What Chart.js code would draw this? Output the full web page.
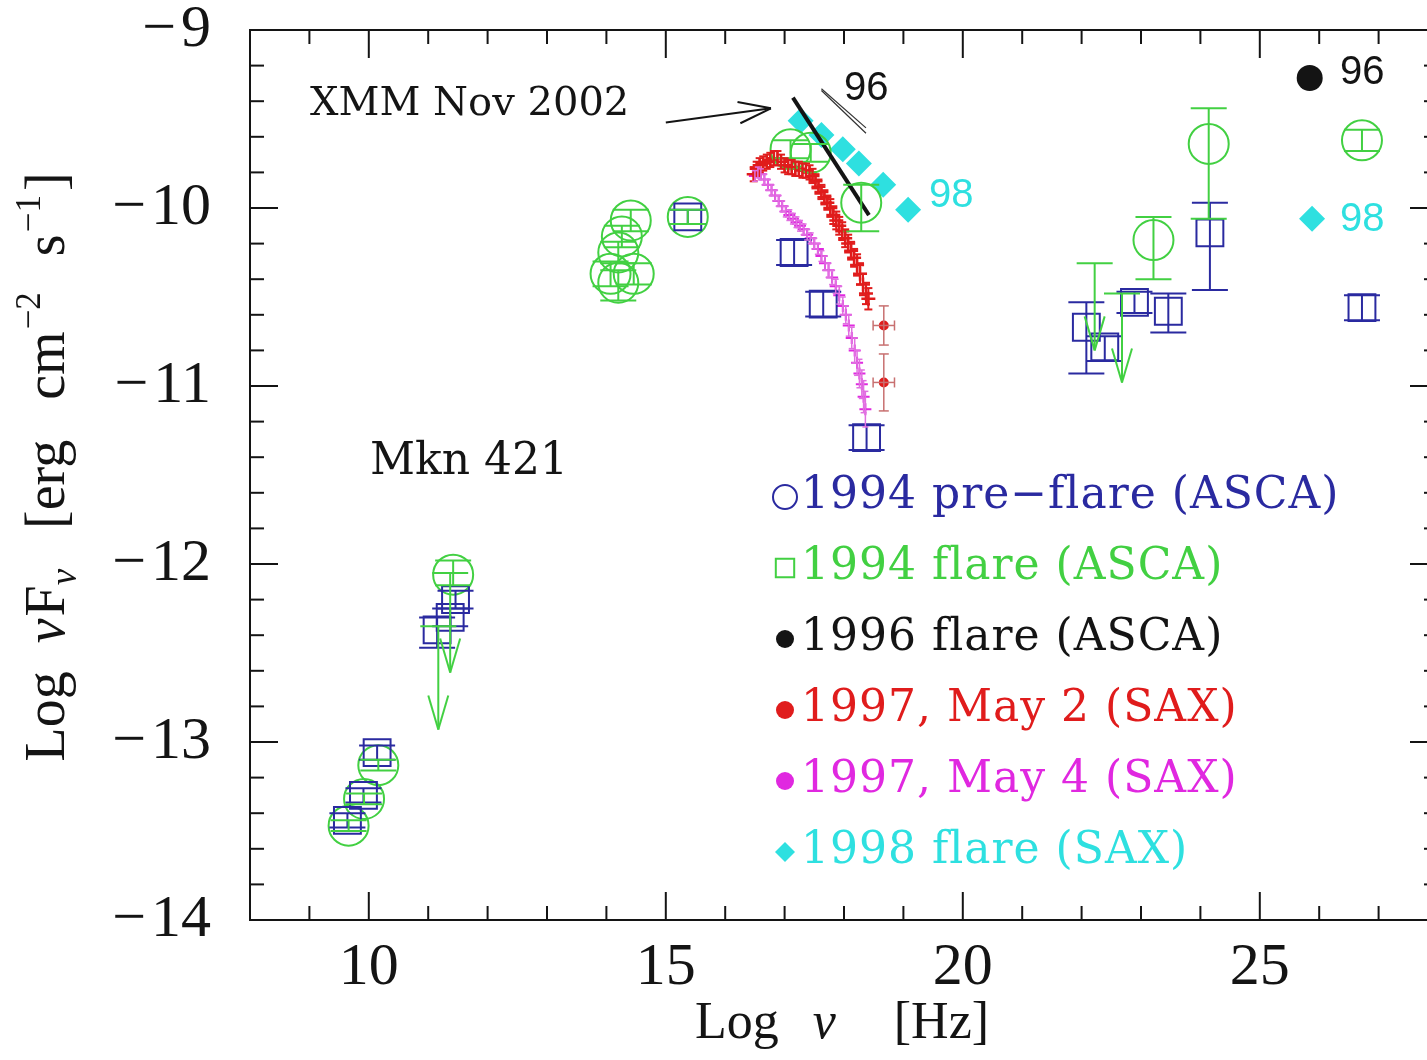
<!DOCTYPE html>
<html>
<head>
<meta charset="utf-8">
<title>Mkn 421 SED</title>
<script src="https://cdn.jsdelivr.net/npm/chart.js@4.4.1/dist/chart.umd.min.js"></script>
<style>
  html, body { margin: 0; padding: 0; background: #fff; overflow: hidden; }
  #wrap { position: relative; width: 1460px; height: 1060px; }
</style>
</head>
<body>
<div id="wrap"><canvas id="sed" width="1460" height="1060"></canvas></div>
<script>
// axis ranges and tick labels
const xMin = 8, xMax = 28;
const yMin = -14, yMax = -9;
const xTicks = [10, 15, 20, 25];
const yTicks = [-9, -10, -11, -12, -13, -14];

// 1994 pre-flare (ASCA) -- blue squares
const preFlare94X  = [9.64, 9.91, 10.14, 11.15, 11.37, 11.46, 15.37, 17.16, 17.65, 18.38, 22.08, 22.39, 22.89, 23.46, 24.16, 26.72];
const preFlare94Y  = [-13.44, -13.30, -13.06, -12.37, -12.30, -12.20, -10.05, -10.25, -10.54, -11.29, -10.67, -10.78, -10.53, -10.58, -10.14, -10.56];
const preFlare94Up = [0.04, 0.04, 0.04, 0.07, 0.05, 0.05, 0.04, 0.07, 0.07, 0.07, 0.14, 0.06, 0.06, 0.10, 0.17, 0.07];
const preFlare94Dn = [0.04, 0.04, 0.04, 0.10, 0.05, 0.05, 0.04, 0.07, 0.07, 0.07, 0.26, 0.08, 0.06, 0.12, 0.32, 0.07];

// 1994 flare (ASCA) -- green circles
const flare94X  = [9.66, 9.92, 10.16, 11.42, 14.41, 14.26, 14.20, 14.07, 14.46, 14.20, 15.37, 17.10, 17.44, 18.29, 23.21, 24.14, 26.72];
const flare94Y  = [-13.47, -13.32, -13.13, -12.06, -10.07, -10.16, -10.25, -10.37, -10.37, -10.42, -10.05, -9.67, -9.69, -9.97, -10.18, -9.64, -9.62];
const flare94Up = [0.03, 0.03, 0.03, 0.08, 0.06, 0.06, 0.06, 0.07, 0.06, 0.07, 0.04, 0.05, 0.05, 0.10, 0.13, 0.20, 0.06];
const flare94Dn = [0.03, 0.03, 0.03, 0.06, 0.06, 0.06, 0.06, 0.07, 0.06, 0.10, 0.04, 0.05, 0.05, 0.16, 0.22, 0.42, 0.06];
// 1994 flare upper limits (value at the cap, arrow tip)
const flare94LimX   = [11.17, 11.37, 22.22, 22.68];
const flare94LimY   = [-12.35, -12.05, -10.31, -10.48];
const flare94LimTip = [-12.93, -12.61, -10.80, -10.98];

// 1996 flare (ASCA)
const flare96X = [25.84];
const flare96Y = [-9.27];
const bow96X  = [17.62, 18.37];
const bow96YA = [-9.34, -9.58];
const bow96YB = [-9.33, -9.55];

// 1997 May 2 (SAX)
const may2X = [16.48, 16.53, 16.58, 16.64, 16.70, 16.76, 16.82, 16.88, 16.94, 17.00, 17.06, 17.12, 17.18, 17.24, 17.30, 17.36, 17.42, 17.47, 17.52,
               17.57, 17.62, 17.67, 17.72, 17.77, 17.82, 17.87, 17.92, 17.97, 18.02, 18.07, 18.12, 18.17, 18.22, 18.27, 18.32, 18.37, 18.41];
const may2Y = [-9.81, -9.78, -9.76, -9.75, -9.74, -9.73, -9.72, -9.72, -9.74, -9.76, -9.77, -9.77, -9.78, -9.78, -9.79, -9.79, -9.80, -9.82, -9.85,
               -9.88, -9.91, -9.94, -9.97, -10.00, -10.04, -10.07, -10.10, -10.13, -10.17, -10.20, -10.24, -10.28, -10.32, -10.37, -10.43, -10.48, -10.51];
const may2Err = [0.04, 0.04, 0.04, 0.04, 0.04, 0.04, 0.04, 0.04, 0.04, 0.04, 0.04, 0.04, 0.04, 0.04, 0.04, 0.04, 0.04, 0.04, 0.04,
                 0.04, 0.04, 0.04, 0.04, 0.05, 0.05, 0.05, 0.05, 0.05, 0.05, 0.05, 0.05, 0.05, 0.06, 0.06, 0.06, 0.06, 0.06];
const may2HiX = [18.67, 18.67];
const may2HiY = [-10.66, -10.98];
const may2HiErrY = [0.11, 0.16];
const may2HiErrX = [0.18, 0.18];

// 1997 May 4 (SAX)
const may4X = [16.50, 16.55, 16.60, 16.66, 16.72, 16.78, 16.84, 16.90, 16.96, 17.02, 17.08, 17.14, 17.20, 17.26, 17.32, 17.38, 17.44, 17.50,
               17.56, 17.62, 17.68, 17.74, 17.80, 17.86, 17.92, 17.98, 18.03, 18.08, 18.13, 18.18, 18.22, 18.26, 18.30, 18.33, 18.36];
const may4Y = [-9.82, -9.80, -9.81, -9.84, -9.87, -9.90, -9.93, -9.96, -9.99, -10.02, -10.04, -10.06, -10.08, -10.10, -10.12, -10.15, -10.17, -10.20,
               -10.23, -10.27, -10.31, -10.35, -10.39, -10.44, -10.49, -10.55, -10.60, -10.66, -10.73, -10.80, -10.87, -10.93, -10.99, -11.06, -11.13];
const may4Err = [0.03, 0.03, 0.03, 0.03, 0.03, 0.03, 0.03, 0.03, 0.03, 0.03, 0.03, 0.03, 0.03, 0.03, 0.03, 0.03, 0.03, 0.03,
                 0.03, 0.03, 0.04, 0.04, 0.04, 0.04, 0.05, 0.05, 0.05, 0.06, 0.06, 0.07, 0.07, 0.08, 0.08, 0.09, 0.10];

// 1998 flare (SAX)
const flare98X = [17.27, 17.62, 17.98, 18.25, 18.66, 19.08, 25.88];
const flare98Y = [-9.51, -9.59, -9.67, -9.75, -9.87, -10.01, -10.06];

// XMM Nov 2002 slope
const xmmX = [17.14, 18.42];
const xmmY = [-9.38, -10.04];

// colours
const BLUE = '#2a2aa0', GREEN = '#42d042', RED = '#e01c1c', MAGENTA = '#e028e0', CYAN = '#2ee0e0', INK = '#141414';

const pts = (xs, ys) => xs.map((x, i) => ({ x, y: ys[i] }));

// text written on the plot, in data coordinates
const notes = [
  { text: 'XMM Nov 2002', x: 9.01, y: -9.42, font: '40px "DejaVu Serif"', color: INK },
  { text: 'Mkn 421', x: 10.02, y: -11.43, font: '44px "DejaVu Serif"', color: INK },
  { text: '96', x: 18.0, y: -9.33, font: '40px "Liberation Sans"', color: INK },
  { text: '98', x: 19.43, y: -9.93, font: '40px "Liberation Sans"', color: CYAN },
  { text: '96', x: 26.35, y: -9.24, font: '40px "Liberation Sans"', color: INK },
  { text: '98', x: 26.35, y: -10.07, font: '40px "Liberation Sans"', color: CYAN }
];
const xmmArrow = { x0: 15.0, y0: -9.52, x1: 16.77, y1: -9.44 };

// key
const keyLabels = ['1994 pre\u2212flare (ASCA)', '1994 flare (ASCA)', '1996 flare (ASCA)', '1997, May 2 (SAX)', '1997, May 4 (SAX)', '1998 flare (SAX)'];
const keyColors = [BLUE, GREEN, INK, RED, MAGENTA, CYAN];
const keyMarks = [
  { pointStyle: 'circle', radius: 12, fill: false },
  { pointStyle: 'rect', radius: 13, fill: false },
  { pointStyle: 'circle', radius: 9, fill: true },
  { pointStyle: 'circle', radius: 9, fill: true },
  { pointStyle: 'circle', radius: 9, fill: true },
  { pointStyle: 'rectRot', radius: 10, fill: true }
];

function seg(ctx, x0, y0, x1, y1) {
  ctx.beginPath(); ctx.moveTo(x0, y0); ctx.lineTo(x1, y1); ctx.stroke();
}

// vertical (and horizontal) error bars with caps
const errorBars = {
  id: 'errorBars',
  afterDatasetsDraw(chart) {
    const { ctx, scales: { x, y } } = chart;
    ctx.save();
    chart.data.datasets.forEach(ds => {
      if (!ds.errUp) return;
      ctx.strokeStyle = ds.errColor || ds.borderColor;
      ctx.lineWidth = ds.errWidth || 2;
      const cap = ds.capHalf || 0;
      ds.data.forEach((p, i) => {
        const px = x.getPixelForValue(p.x);
        const yt = y.getPixelForValue(p.y + ds.errUp[i]);
        const yb = y.getPixelForValue(p.y - ds.errDn[i]);
        seg(ctx, px, yt, px, yb);
        if (cap) { seg(ctx, px - cap, yt, px + cap, yt); seg(ctx, px - cap, yb, px + cap, yb); }
        if (ds.errX) {
          const py = y.getPixelForValue(p.y);
          const xl = x.getPixelForValue(p.x - ds.errX[i]);
          const xr = x.getPixelForValue(p.x + ds.errX[i]);
          seg(ctx, xl, py, xr, py);
          seg(ctx, xl, py - 5, xl, py + 5);
          seg(ctx, xr, py - 5, xr, py + 5);
        }
      });
    });
    ctx.restore();
  }
};

// upper limits and the XMM pointer
const arrows = {
  id: 'arrows',
  afterDatasetsDraw(chart) {
    const { ctx, scales: { x, y } } = chart;
    ctx.save();
    ctx.strokeStyle = GREEN; ctx.lineWidth = 2;
    flare94LimX.forEach((lx, i) => {
      const px = x.getPixelForValue(lx);
      const yt = y.getPixelForValue(flare94LimY[i]);
      const yb = y.getPixelForValue(flare94LimTip[i]);
      seg(ctx, px - 18, yt, px + 18, yt);
      seg(ctx, px, yt, px, yb);
      seg(ctx, px - 10, yb - 34, px, yb);
      seg(ctx, px + 10, yb - 34, px, yb);
    });
    // pointer to the XMM slope
    const ax0 = x.getPixelForValue(xmmArrow.x0), ay0 = y.getPixelForValue(xmmArrow.y0);
    const ax1 = x.getPixelForValue(xmmArrow.x1), ay1 = y.getPixelForValue(xmmArrow.y1);
    const ang = Math.atan2(ay1 - ay0, ax1 - ax0);
    ctx.strokeStyle = INK; ctx.lineWidth = 2;
    seg(ctx, ax0, ay0, ax1, ay1);
    [0.32, -0.32].forEach(d => {
      seg(ctx, ax1, ay1, ax1 - 34 * Math.cos(ang + d), ay1 - 34 * Math.sin(ang + d));
    });
    ctx.restore();
  }
};

// box with inward ticks on all four sides
const frame = {
  id: 'frame',
  afterDraw(chart) {
    const { ctx, chartArea: a, scales: { x, y } } = chart;
    ctx.save();
    ctx.strokeStyle = INK; ctx.lineWidth = 2;
    ctx.strokeRect(a.left, a.top, a.right - a.left, a.bottom - a.top);
    for (let v = Math.ceil(x.min); v <= x.max; v++) {
      const px = x.getPixelForValue(v);
      const len = v % 5 === 0 ? 28 : 14;
      seg(ctx, px, a.bottom, px, a.bottom - len);
      seg(ctx, px, a.top, px, a.top + len);
    }
    for (let k = Math.ceil(y.min * 5); k <= Math.floor(y.max * 5); k++) {
      const py = y.getPixelForValue(k / 5);
      const len = k % 5 === 0 ? 28 : 14;
      seg(ctx, a.left, py, a.left + len, py);
      seg(ctx, a.right, py, a.right - len, py);
    }
    ctx.restore();
  }
};

// draws a run of text pieces (sub/superscripts) centred on cx along the baseline
function drawRuns(ctx, runs, cx, base) {
  let total = 0;
  runs.forEach(r => { ctx.font = r.font; r.w = ctx.measureText(r.t).width; total += r.w + (r.gap || 0); });
  let cur = cx - total / 2;
  runs.forEach(r => {
    ctx.font = r.font;
    ctx.fillText(r.t, cur, base + (r.dy || 0));
    cur += r.w + (r.gap || 0);
  });
}

const labels = {
  id: 'labels',
  afterDraw(chart) {
    const { ctx, scales: { x, y } } = chart;
    ctx.save();
    // notes on the plot
    ctx.textAlign = 'left'; ctx.textBaseline = 'middle';
    notes.forEach(n => {
      ctx.font = n.font; ctx.fillStyle = n.color;
      ctx.fillText(n.text, x.getPixelForValue(n.x), y.getPixelForValue(n.y));
    });

    // key
    keyLabels.forEach((lab, i) => {
      const cy = 497 + i * 71;
      const m = keyMarks[i];
      ctx.fillStyle = m.fill ? keyColors[i] : 'rgba(0,0,0,0)';
      ctx.strokeStyle = keyColors[i]; ctx.lineWidth = 2;
      Chart.helpers.drawPoint(ctx, { pointStyle: m.pointStyle, radius: m.radius, rotation: 0, borderWidth: m.fill ? 0 : 2 }, 785, cy);
      ctx.fillStyle = keyColors[i];
      ctx.font = '44px "DejaVu Serif"';
      ctx.letterSpacing = '1px';
      ctx.textAlign = 'left'; ctx.textBaseline = 'middle';
      ctx.fillText(lab, 801, cy);
    });
    ctx.letterSpacing = '0px';

    // axis titles
    const F = 52;
    const rom = `${F}px "Liberation Serif"`, ita = `italic ${F}px "Liberation Serif"`;
    ctx.fillStyle = INK; ctx.textAlign = 'left'; ctx.textBaseline = 'alphabetic';
    drawRuns(ctx, [
      { t: 'Log', font: rom, gap: 34 },
      { t: '\u03bd', font: ita, gap: 58 },
      { t: '[Hz]', font: rom }
    ], 842, 1038);

    const G = 56;
    const romY = `${G}px "Liberation Serif"`, itaY = `italic ${G}px "Liberation Serif"`;
    const sub = `italic ${Math.round(G * 0.66)}px "Liberation Serif"`, sup = `${Math.round(G * 0.62)}px "Liberation Serif"`;
    ctx.translate(64, 467);
    ctx.rotate(-Math.PI / 2);
    drawRuns(ctx, [
      { t: 'Log', font: romY, gap: 28 },
      { t: '\u03bd', font: itaY, gap: 2 },
      { t: 'F', font: romY },
      { t: '\u03bd', font: sub, dy: 12, gap: 40 },
      { t: '[erg', font: romY, gap: 40 },
      { t: 'cm', font: romY, gap: 2 },
      { t: '\u22122', font: sup, dy: -24, gap: 36 },
      { t: 's', font: romY, gap: 2 },
      { t: '\u22121', font: sup, dy: -24, gap: 4 },
      { t: ']', font: romY }
    ], 0, 0);
    ctx.restore();
  }
};

const chart = new Chart(document.getElementById('sed'), {
  type: 'scatter',
  data: {
    datasets: [
      { label: 'XMM Nov 2002', data: pts(xmmX, xmmY), showLine: true, borderColor: INK, borderWidth: 4, pointRadius: 0 },
      { label: '1996 slope a', data: pts(bow96X, bow96YA), showLine: true, borderColor: '#333', borderWidth: 1.2, pointRadius: 0 },
      { label: '1996 slope b', data: pts(bow96X, bow96YB), showLine: true, borderColor: '#333', borderWidth: 1.2, pointRadius: 0 },
      { label: '1996 flare (ASCA)', data: pts(flare96X, flare96Y), pointStyle: 'circle', pointRadius: 13,
        backgroundColor: INK, borderColor: INK, borderWidth: 0 },
      { label: '1994 pre-flare (ASCA)', data: pts(preFlare94X, preFlare94Y), pointStyle: 'rect', pointRadius: 19,
        backgroundColor: 'rgba(0,0,0,0)', borderColor: BLUE, borderWidth: 2,
        errUp: preFlare94Up, errDn: preFlare94Dn, capHalf: 18 },
      { label: '1994 flare (ASCA)', data: pts(flare94X, flare94Y), pointStyle: 'circle', pointRadius: 20,
        backgroundColor: 'rgba(0,0,0,0)', borderColor: GREEN, borderWidth: 2,
        errUp: flare94Up, errDn: flare94Dn, capHalf: 18 },
      { label: '1998 flare (SAX)', data: pts(flare98X, flare98Y), pointStyle: 'rectRot', pointRadius: 13,
        backgroundColor: CYAN, borderColor: CYAN, borderWidth: 0 },
      { label: '1997, May 2 (SAX)', data: pts(may2X, may2Y), pointStyle: 'cross', pointRadius: 7,
        borderColor: RED, borderWidth: 2.5, errUp: may2Err, errDn: may2Err, capHalf: 4, errWidth: 2 },
      { label: '1997, May 2 (SAX) high energy', data: pts(may2HiX, may2HiY), pointStyle: 'circle', pointRadius: 5,
        backgroundColor: RED, borderColor: RED, borderWidth: 0,
        errUp: may2HiErrY, errDn: may2HiErrY, errX: may2HiErrX, capHalf: 5, errColor: '#c87070', errWidth: 1.5 },
      { label: '1997, May 4 (SAX)', data: pts(may4X, may4Y), pointStyle: 'cross', pointRadius: 6,
        borderColor: MAGENTA, borderWidth: 2, errUp: may4Err, errDn: may4Err, capHalf: 3, errWidth: 1.5, errColor: '#e070e0' }
    ]
  },
  options: {
    responsive: false,
    animation: false,
    devicePixelRatio: 1,
    // the canvas runs past the window; the right side of the box falls just outside it
    layout: { padding: { top: 30, right: 2, bottom: 0, left: 0 } },
    plugins: { legend: { display: false }, tooltip: { enabled: false } },
    scales: {
      x: {
        type: 'linear', min: xMin, max: xMax,
        grid: { display: false }, border: { display: false },
        ticks: { color: INK, padding: 4, font: { family: 'Liberation Serif', size: 60 } },
        afterBuildTicks: s => { s.ticks = xTicks.map(v => ({ value: v })); },
        afterFit: s => { s.height = 140; }
      },
      y: {
        type: 'linear', min: yMin, max: yMax,
        grid: { display: false }, border: { display: false },
        ticks: { color: INK, padding: 31, font: { family: 'Liberation Serif', size: 60 },
                 callback: v => '\u2212\u200a' + Math.abs(v) },
        afterBuildTicks: s => { s.ticks = yTicks.map(v => ({ value: v })); },
        afterFit: s => { s.width = 250; s.paddingTop = 0; s.paddingBottom = 0; }
      }
    }
  },
  plugins: [errorBars, arrows, frame, labels]
});
</script>
</body>
</html>
